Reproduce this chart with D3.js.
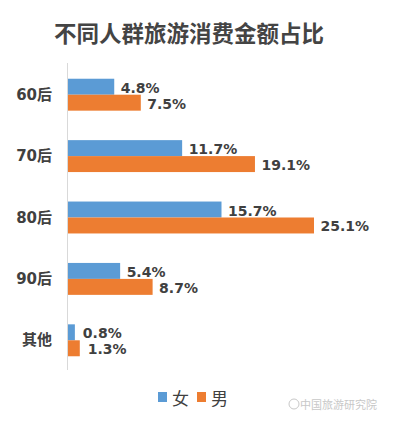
<!DOCTYPE html>
<html><head><meta charset="utf-8">
<script src="https://cdn.jsdelivr.net/npm/d3@7/dist/d3.min.js"></script>
<style>body{margin:0;background:#fff;}svg{display:block;}</style>
</head><body>
<svg id="c" width="393" height="424"></svg>
<script>
const categories = ["60后","70后","80后","90后","其他"];
const female = [4.8, 11.7, 15.7, 5.4, 0.8];
const male = [7.5, 19.1, 25.1, 8.7, 1.3];
const seriesNames = ["女","男"];
const colors = ["#5B9BD5","#ED7D31"];

const svg = d3.select("#c");
const font = "'Noto Sans CJK SC', 'Microsoft YaHei', sans-serif";
const numFont = "'DejaVu Sans', 'Noto Sans CJK SC', sans-serif";
const txt = "#404040";

svg.append("text").attr("x",189).attr("y",32).attr("text-anchor","middle")
  .attr("dominant-baseline","central").attr("font-family",font).attr("font-weight","bold")
  .attr("font-size",22.5).attr("fill","#444").text("不同人群旅游消费金额占比");

const x = d3.scaleLinear().domain([0,25.1]).range([67,314]);
const y = d3.scaleBand().domain(categories).range([64,371]).paddingInner(0.48).paddingOuter(0.24);
const sub = d3.scaleBand().domain([0,1]).range([0,y.bandwidth()]);

const data = categories.map((c,i)=>({c, v:[female[i], male[i]]}));
const g = svg.append("g");
data.forEach(d=>{
  d.v.forEach((v,k)=>{
    g.append("rect").attr("x",x(0)).attr("y",y(d.c)+sub(k))
      .attr("width",x(v)-x(0)).attr("height",sub.bandwidth()).attr("fill",colors[k]);
    g.append("text").attr("x",x(v)+(v<2?8:6.5)).attr("y",y(d.c)+sub(k)+sub.bandwidth()/2+1)
      .attr("dominant-baseline","central").attr("font-family",numFont).attr("font-weight","bold")
      .attr("font-size",14).attr("fill",txt).text(v.toFixed(1)+"%");
  });
});

svg.append("line").attr("x1",67.5).attr("x2",67.5).attr("y1",63).attr("y2",370)
  .attr("stroke","#d9d9d9").attr("stroke-width",1);

svg.append("g").selectAll("text").data(categories).join("text")
  .attr("x",52).attr("y",d=>y(d)+y.bandwidth()/2)
  .attr("text-anchor","end").attr("dominant-baseline","central")
  .attr("font-family",numFont).attr("font-weight","bold").attr("font-size",15).attr("fill",txt)
  .text(d=>d);

const leg = svg.append("g");
const legX = [158,197];
seriesNames.forEach((n,k)=>{
  leg.append("rect").attr("x",legX[k]).attr("y",392).attr("width",9).attr("height",10).attr("fill",colors[k]);
  leg.append("text").attr("x",legX[k]+14).attr("y",397).attr("dominant-baseline","central")
    .attr("font-family",font).attr("font-size",17).attr("fill",txt).text(n);
});

svg.append("text").attr("x",377).attr("y",404).attr("text-anchor","end").attr("dominant-baseline","central")
  .attr("font-family",font).attr("font-size",11).attr("fill","#c8c8c8").text("中国旅游研究院");
svg.append("circle").attr("cx",294).attr("cy",404).attr("r",5).attr("fill","none").attr("stroke","#c8c8c8");
</script>
</body></html>
